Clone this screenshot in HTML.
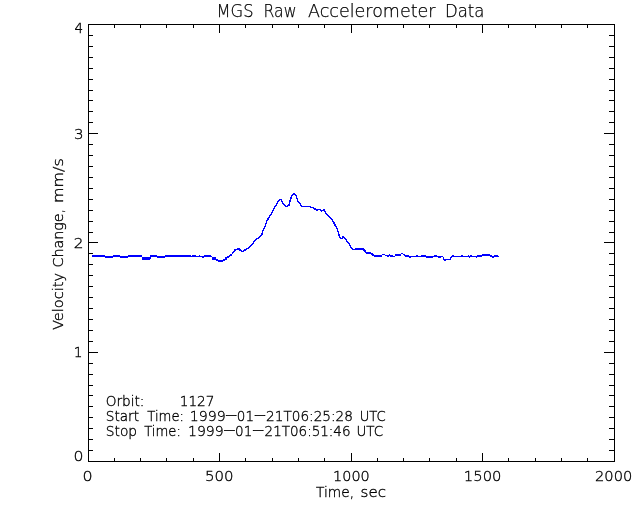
<!DOCTYPE html>
<html><head><meta charset="utf-8"><title>MGS Raw Accelerometer Data</title>
<style>
html,body{margin:0;padding:0;background:#fff;}
body{width:640px;height:512px;overflow:hidden;}
svg{display:block;will-change:transform;}
text{font-family:"DejaVu Sans","Liberation Sans",sans-serif;font-weight:200;fill:#000;stroke:#000;stroke-width:0.34px;}
</style></head><body>
<svg width="640" height="512" viewBox="0 0 640 512">
<rect width="640" height="512" fill="#fff"/>
<g fill="#000" shape-rendering="crispEdges">
<rect x="88" y="24" width="527" height="1"/>
<rect x="88" y="461" width="527" height="1"/>
<rect x="88" y="24" width="1" height="438"/>
<rect x="614" y="24" width="1" height="438"/>
<rect x="114" y="458" width="1" height="3"/>
<rect x="114" y="25" width="1" height="3"/>
<rect x="140" y="458" width="1" height="3"/>
<rect x="140" y="25" width="1" height="3"/>
<rect x="166" y="458" width="1" height="3"/>
<rect x="166" y="25" width="1" height="3"/>
<rect x="193" y="458" width="1" height="3"/>
<rect x="193" y="25" width="1" height="3"/>
<rect x="219" y="453" width="1" height="8"/>
<rect x="219" y="25" width="1" height="8"/>
<rect x="245" y="458" width="1" height="3"/>
<rect x="245" y="25" width="1" height="3"/>
<rect x="272" y="458" width="1" height="3"/>
<rect x="272" y="25" width="1" height="3"/>
<rect x="298" y="458" width="1" height="3"/>
<rect x="298" y="25" width="1" height="3"/>
<rect x="324" y="458" width="1" height="3"/>
<rect x="324" y="25" width="1" height="3"/>
<rect x="351" y="453" width="1" height="8"/>
<rect x="351" y="25" width="1" height="8"/>
<rect x="377" y="458" width="1" height="3"/>
<rect x="377" y="25" width="1" height="3"/>
<rect x="403" y="458" width="1" height="3"/>
<rect x="403" y="25" width="1" height="3"/>
<rect x="429" y="458" width="1" height="3"/>
<rect x="429" y="25" width="1" height="3"/>
<rect x="456" y="458" width="1" height="3"/>
<rect x="456" y="25" width="1" height="3"/>
<rect x="482" y="453" width="1" height="8"/>
<rect x="482" y="25" width="1" height="8"/>
<rect x="508" y="458" width="1" height="3"/>
<rect x="508" y="25" width="1" height="3"/>
<rect x="535" y="458" width="1" height="3"/>
<rect x="535" y="25" width="1" height="3"/>
<rect x="561" y="458" width="1" height="3"/>
<rect x="561" y="25" width="1" height="3"/>
<rect x="587" y="458" width="1" height="3"/>
<rect x="587" y="25" width="1" height="3"/>
<rect x="89" y="450" width="4" height="1"/>
<rect x="609" y="450" width="5" height="1"/>
<rect x="89" y="439" width="4" height="1"/>
<rect x="609" y="439" width="5" height="1"/>
<rect x="89" y="428" width="4" height="1"/>
<rect x="609" y="428" width="5" height="1"/>
<rect x="89" y="417" width="4" height="1"/>
<rect x="609" y="417" width="5" height="1"/>
<rect x="89" y="406" width="4" height="1"/>
<rect x="609" y="406" width="5" height="1"/>
<rect x="89" y="395" width="4" height="1"/>
<rect x="609" y="395" width="5" height="1"/>
<rect x="89" y="385" width="4" height="1"/>
<rect x="609" y="385" width="5" height="1"/>
<rect x="89" y="374" width="4" height="1"/>
<rect x="609" y="374" width="5" height="1"/>
<rect x="89" y="363" width="4" height="1"/>
<rect x="609" y="363" width="5" height="1"/>
<rect x="89" y="352" width="9" height="1"/>
<rect x="604" y="352" width="10" height="1"/>
<rect x="89" y="341" width="4" height="1"/>
<rect x="609" y="341" width="5" height="1"/>
<rect x="89" y="330" width="4" height="1"/>
<rect x="609" y="330" width="5" height="1"/>
<rect x="89" y="319" width="4" height="1"/>
<rect x="609" y="319" width="5" height="1"/>
<rect x="89" y="308" width="4" height="1"/>
<rect x="609" y="308" width="5" height="1"/>
<rect x="89" y="297" width="4" height="1"/>
<rect x="609" y="297" width="5" height="1"/>
<rect x="89" y="286" width="4" height="1"/>
<rect x="609" y="286" width="5" height="1"/>
<rect x="89" y="275" width="4" height="1"/>
<rect x="609" y="275" width="5" height="1"/>
<rect x="89" y="264" width="4" height="1"/>
<rect x="609" y="264" width="5" height="1"/>
<rect x="89" y="253" width="4" height="1"/>
<rect x="609" y="253" width="5" height="1"/>
<rect x="89" y="242" width="9" height="1"/>
<rect x="604" y="242" width="10" height="1"/>
<rect x="89" y="232" width="4" height="1"/>
<rect x="609" y="232" width="5" height="1"/>
<rect x="89" y="221" width="4" height="1"/>
<rect x="609" y="221" width="5" height="1"/>
<rect x="89" y="210" width="4" height="1"/>
<rect x="609" y="210" width="5" height="1"/>
<rect x="89" y="199" width="4" height="1"/>
<rect x="609" y="199" width="5" height="1"/>
<rect x="89" y="188" width="4" height="1"/>
<rect x="609" y="188" width="5" height="1"/>
<rect x="89" y="177" width="4" height="1"/>
<rect x="609" y="177" width="5" height="1"/>
<rect x="89" y="166" width="4" height="1"/>
<rect x="609" y="166" width="5" height="1"/>
<rect x="89" y="155" width="4" height="1"/>
<rect x="609" y="155" width="5" height="1"/>
<rect x="89" y="144" width="4" height="1"/>
<rect x="609" y="144" width="5" height="1"/>
<rect x="89" y="133" width="9" height="1"/>
<rect x="604" y="133" width="10" height="1"/>
<rect x="89" y="122" width="4" height="1"/>
<rect x="609" y="122" width="5" height="1"/>
<rect x="89" y="111" width="4" height="1"/>
<rect x="609" y="111" width="5" height="1"/>
<rect x="89" y="100" width="4" height="1"/>
<rect x="609" y="100" width="5" height="1"/>
<rect x="89" y="90" width="4" height="1"/>
<rect x="609" y="90" width="5" height="1"/>
<rect x="89" y="79" width="4" height="1"/>
<rect x="609" y="79" width="5" height="1"/>
<rect x="89" y="68" width="4" height="1"/>
<rect x="609" y="68" width="5" height="1"/>
<rect x="89" y="57" width="4" height="1"/>
<rect x="609" y="57" width="5" height="1"/>
<rect x="89" y="46" width="4" height="1"/>
<rect x="609" y="46" width="5" height="1"/>
<rect x="89" y="35" width="4" height="1"/>
<rect x="609" y="35" width="5" height="1"/>
</g>
<path d="M92,255h13v2h-13zM105,256h8v2h-8zM113,255h7v2h-7zM120,256h8v2h-8zM128,255h14v2h-14zM142,257h8v3h-8zM150,255h1v4h-1zM151,255h6v2h-6zM157,256h8v2h-8zM165,255h26v2h-26zM191,256h1v1h-1zM192,255h4v2h-4zM196,256h3v1h-3zM199,255h1v2h-1zM200,256h2v1h-2zM202,256h2v2h-2zM204,255h7v2h-7zM211,256h1v1h-1zM212,257h4v3h-4zM216,259h2v2h-2zM218,260h5v2h-5zM223,259h2v2h-2zM225,257h2v3h-2zM227,256h2v2h-2zM229,255h1v2h-1zM230,254h2v2h-2zM232,252h1v2h-1zM233,251h1v2h-1zM234,249h1v3h-1zM235,249h1v2h-1zM236,249h1v1h-1zM237,248h2v2h-2zM239,248h1v3h-1zM240,249h1v2h-1zM241,250h1v2h-1zM242,251h1v1h-1zM243,250h1v2h-1zM244,249h2v2h-2zM246,248h1v2h-1zM247,248h1v1h-1zM248,247h1v2h-1zM249,246h1v2h-1zM250,245h1v2h-1zM251,244h1v2h-1zM252,243h1v2h-1zM253,241h1v3h-1zM254,240h1v2h-1zM255,239h1v2h-1zM256,238h1v2h-1zM257,238h1v1h-1zM258,237h1v2h-1zM259,236h1v2h-1zM260,235h1v2h-1zM261,233h1v3h-1zM262,230h1v5h-1zM263,228h1v3h-1zM264,226h1v3h-1zM265,223h1v4h-1zM266,220h1v4h-1zM267,218h1v3h-1zM268,217h1v3h-1zM269,215h1v3h-1zM270,214h1v2h-1zM271,212h1v3h-1zM272,210h1v3h-1zM273,208h1v3h-1zM274,206h1v3h-1zM275,205h1v2h-1zM276,203h1v3h-1zM277,201h1v3h-1zM278,200h1v2h-1zM279,199h1v2h-1zM280,199h1v1h-1zM281,199h1v3h-1zM282,201h1v3h-1zM283,203h1v2h-1zM284,204h1v2h-1zM285,205h1v2h-1zM286,206h1v1h-1zM287,205h1v2h-1zM288,204h1v2h-1zM289,200h1v6h-1zM290,197h1v5h-1zM291,195h1v4h-1zM292,194h1v2h-1zM293,193h2v2h-2zM295,194h1v2h-1zM296,195h1v4h-1zM297,198h1v4h-1zM298,201h1v2h-1zM299,202h1v2h-1zM300,203h1v3h-1zM301,205h1v2h-1zM302,206h8v1h-8zM310,206h1v2h-1zM311,207h2v1h-2zM313,207h1v2h-1zM314,208h2v2h-2zM316,209h2v2h-2zM318,209h2v1h-2zM320,209h1v2h-1zM321,210h1v2h-1zM322,210h1v1h-1zM323,209h1v2h-1zM324,209h1v3h-1zM325,211h1v3h-1zM326,213h1v2h-1zM327,214h1v2h-1zM328,215h1v2h-1zM329,216h1v2h-1zM330,217h1v2h-1zM331,218h1v2h-1zM332,219h1v3h-1zM333,221h1v3h-1zM334,222h1v4h-1zM335,224h1v3h-1zM336,226h1v3h-1zM337,228h1v4h-1zM338,231h1v5h-1zM339,234h1v4h-1zM340,237h1v2h-1zM341,238h1v1h-1zM342,236h1v3h-1zM343,236h1v2h-1zM344,237h1v2h-1zM345,238h1v2h-1zM346,239h1v3h-1zM347,241h1v2h-1zM348,242h1v2h-1zM349,243h1v3h-1zM350,245h1v3h-1zM351,247h1v2h-1zM352,248h1v2h-1zM353,249h2v1h-2zM355,248h8v2h-8zM363,248h1v3h-1zM364,249h1v3h-1zM365,250h1v3h-1zM366,252h5v2h-5zM371,253h1v2h-1zM372,253h1v3h-1zM373,254h1v2h-1zM374,255h8v2h-8zM382,254h3v1h-3zM385,255h2v1h-2zM387,255h2v2h-2zM389,254h1v2h-1zM390,255h3v2h-3zM393,256h2v1h-2zM395,254h6v2h-6zM401,253h2v1h-2zM403,254h1v1h-1zM404,254h1v2h-1zM405,255h4v2h-4zM409,256h2v2h-2zM411,256h5v1h-5zM416,255h2v2h-2zM418,256h3v1h-3zM421,255h5v2h-5zM426,256h7v2h-7zM433,256h1v1h-1zM434,255h3v2h-3zM437,256h1v1h-1zM438,256h3v2h-3zM441,256h2v1h-2zM443,257h1v3h-1zM444,259h2v2h-2zM446,259h4v1h-4zM450,257h1v3h-1zM451,256h1v2h-1zM452,255h2v2h-2zM454,256h7v1h-7zM461,255h2v2h-2zM463,256h5v1h-5zM468,255h1v2h-1zM469,256h1v2h-1zM470,255h2v2h-2zM472,256h4v1h-4zM476,256h1v2h-1zM477,255h5v2h-5zM482,254h8v2h-8zM490,255h2v2h-2zM492,256h2v2h-2zM494,255h4v2h-4zM498,256h1v1h-1z" fill="#0000ff" shape-rendering="crispEdges"/>
<g>
<text font-size="17.2" style="stroke-width:0.25px"><tspan x="216.5" y="16.5" textLength="37.00" lengthAdjust="spacingAndGlyphs">MGS</tspan> <tspan x="263.5" y="16.5" textLength="33.00" lengthAdjust="spacingAndGlyphs">Raw</tspan> <tspan x="308" y="16.5" textLength="127.50" lengthAdjust="spacingAndGlyphs">Accelerometer</tspan> <tspan x="445" y="16.5" textLength="39.50" lengthAdjust="spacingAndGlyphs">Data</tspan></text>
<text font-size="13.75"><tspan x="82.51" y="480.6" textLength="10.14" lengthAdjust="spacingAndGlyphs">0</tspan></text>
<text font-size="13.75"><tspan x="204.98" y="480.6" textLength="28.57" lengthAdjust="spacingAndGlyphs">500</tspan></text>
<text font-size="13.75"><tspan x="333.13" y="480.6" textLength="36.57" lengthAdjust="spacingAndGlyphs">1000</tspan></text>
<text font-size="13.75"><tspan x="463.89" y="480.6" textLength="37.55" lengthAdjust="spacingAndGlyphs">1500</tspan></text>
<text font-size="13.75"><tspan x="595.04" y="480.6" textLength="37.29" lengthAdjust="spacingAndGlyphs">2000</tspan></text>
<text font-size="13.75"><tspan x="74.41" y="32.9" textLength="8.62" lengthAdjust="spacingAndGlyphs">4</tspan></text>
<text font-size="13.75"><tspan x="73.91" y="139" textLength="9.57" lengthAdjust="spacingAndGlyphs">3</tspan></text>
<text font-size="13.75"><tspan x="73.80" y="248" textLength="9.69" lengthAdjust="spacingAndGlyphs">2</tspan></text>
<text font-size="13.75"><tspan x="73.75" y="357">1</tspan></text>
<text font-size="13.75"><tspan x="73.43" y="461" textLength="10.00" lengthAdjust="spacingAndGlyphs">0</tspan></text>
<text font-size="13.75"><tspan x="316.10" y="496.6" textLength="37.97" lengthAdjust="spacingAndGlyphs">Time,</tspan> <tspan x="360.60" y="496.6" textLength="25.43" lengthAdjust="spacingAndGlyphs">sec</tspan></text>
<text font-size="13.75" transform="translate(62.6,330) rotate(-90)"><tspan x="0.08" y="0" textLength="56.90" lengthAdjust="spacingAndGlyphs">Velocity</tspan> <tspan x="62.46" y="0" textLength="58.68" lengthAdjust="spacingAndGlyphs">Change,</tspan> <tspan x="127.06" y="0" textLength="44.65" lengthAdjust="spacingAndGlyphs">mm/s</tspan></text>
<text font-size="13.75" xml:space="preserve"><tspan x="105.66" y="405.5" textLength="38.76" lengthAdjust="spacingAndGlyphs">Orbit:</tspan>      <tspan x="179.76" y="405.5" textLength="34.67" lengthAdjust="spacingAndGlyphs">1127</tspan></text>
<text font-size="13.75"><tspan x="105.81" y="420.5" textLength="33.27" lengthAdjust="spacingAndGlyphs">Start</tspan> <tspan x="147.31" y="420.5" textLength="36.74" lengthAdjust="spacingAndGlyphs">Time:</tspan> <tspan x="189.71" y="420.5" textLength="35.97" lengthAdjust="spacingAndGlyphs">1999</tspan><tspan x="224.63" y="419.3" textLength="13.41" lengthAdjust="spacingAndGlyphs">-</tspan><tspan x="236.82" y="420.5" textLength="17.20" lengthAdjust="spacingAndGlyphs">01</tspan><tspan x="253.38" y="419.3" textLength="13.41" lengthAdjust="spacingAndGlyphs">-</tspan><tspan x="266.11" y="420.5" textLength="86.83" lengthAdjust="spacingAndGlyphs">21T06:25:28</tspan> <tspan x="359.67" y="420.5" textLength="26.00" lengthAdjust="spacingAndGlyphs">UTC</tspan></text>
<text font-size="13.75"><tspan x="105.80" y="435.5" textLength="31.23" lengthAdjust="spacingAndGlyphs">Stop</tspan> <tspan x="144.21" y="435.5" textLength="36.64" lengthAdjust="spacingAndGlyphs">Time:</tspan> <tspan x="187.97" y="435.5" textLength="35.70" lengthAdjust="spacingAndGlyphs">1999</tspan><tspan x="222.88" y="434.3" textLength="13.41" lengthAdjust="spacingAndGlyphs">-</tspan><tspan x="235.07" y="435.5" textLength="17.20" lengthAdjust="spacingAndGlyphs">01</tspan><tspan x="251.63" y="434.3" textLength="13.41" lengthAdjust="spacingAndGlyphs">-</tspan><tspan x="264.62" y="435.5" textLength="85.91" lengthAdjust="spacingAndGlyphs">21T06:51:46</tspan> <tspan x="356.53" y="435.5" textLength="26.65" lengthAdjust="spacingAndGlyphs">UTC</tspan></text>
</g>
</svg>
</body></html>
